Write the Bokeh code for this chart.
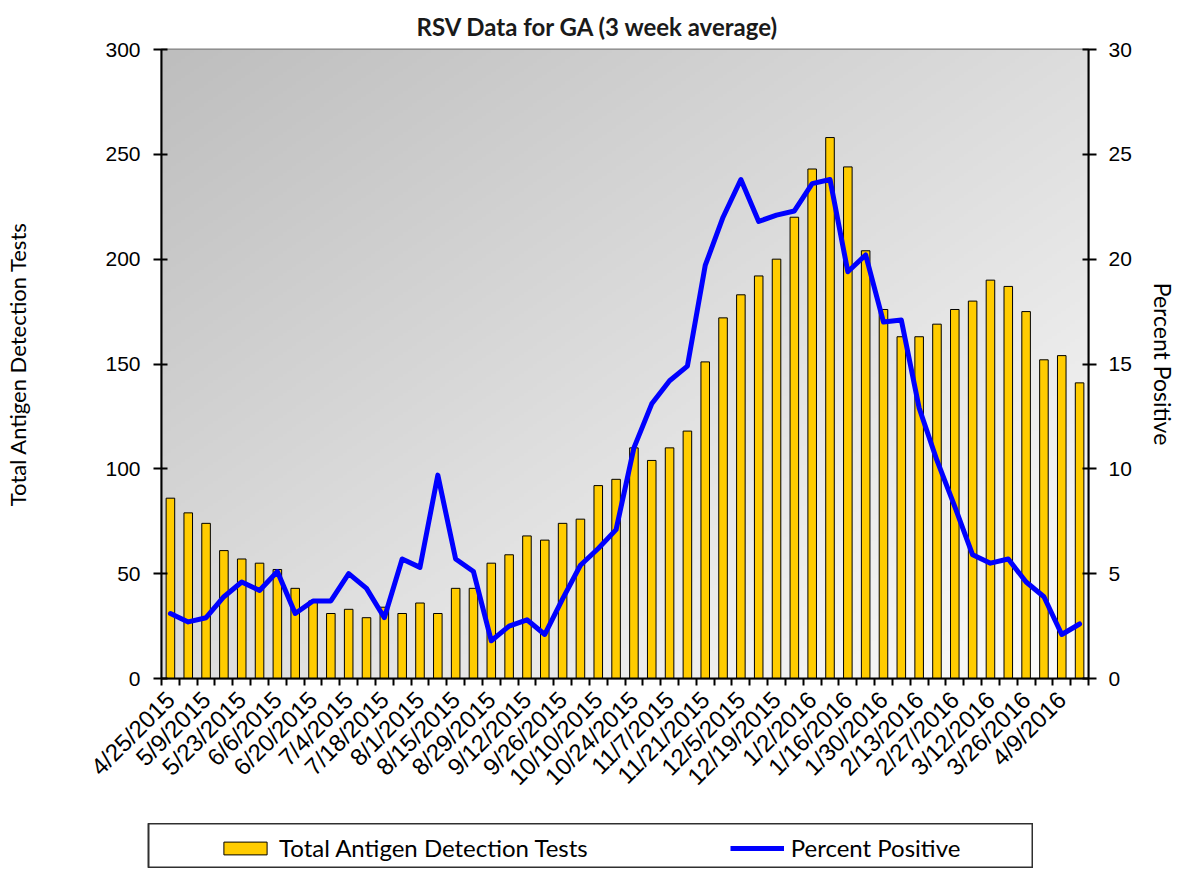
import numpy as np
from bokeh.plotting import figure
from bokeh.layouts import column
from bokeh.models import (Range1d, LinearAxis, FixedTicker, SingleIntervalTicker,
                          Legend, LegendItem)
from bokeh.embed import file_html
from bokeh.resources import INLINE
from math import pi

# ---------------- data ----------------
weeks = ["4/25/2015", "5/2/2015", "5/9/2015", "5/16/2015", "5/23/2015", "5/30/2015",
         "6/6/2015", "6/13/2015", "6/20/2015", "6/27/2015", "7/4/2015", "7/11/2015",
         "7/18/2015", "7/25/2015", "8/1/2015", "8/8/2015", "8/15/2015", "8/22/2015",
         "8/29/2015", "9/5/2015", "9/12/2015", "9/19/2015", "9/26/2015", "10/3/2015",
         "10/10/2015", "10/17/2015", "10/24/2015", "10/31/2015", "11/7/2015", "11/14/2015",
         "11/21/2015", "11/28/2015", "12/5/2015", "12/12/2015", "12/19/2015", "12/26/2015",
         "1/2/2016", "1/9/2016", "1/16/2016", "1/23/2016", "1/30/2016", "2/6/2016",
         "2/13/2016", "2/20/2016", "2/27/2016", "3/5/2016", "3/12/2016", "3/19/2016",
         "3/26/2016", "4/2/2016", "4/9/2016", "4/16/2016"]

total_tests = [86, 79, 74, 61, 57, 55, 52, 43, 37, 31, 33, 29, 34, 31, 36, 31, 43, 43,
               55, 59, 68, 66, 74, 76, 92, 95, 110, 104, 110, 118, 151, 172, 183, 192,
               200, 220, 243, 258, 244, 204, 176, 163, 163, 169, 176, 180, 190, 187,
               175, 152, 154, 141]

percent_positive = [3.1, 2.7, 2.9, 3.9, 4.6, 4.2, 5.1, 3.1, 3.7, 3.7, 5.0, 4.3, 2.9,
                    5.7, 5.3, 9.7, 5.7, 5.1, 1.8, 2.5, 2.8, 2.1, 3.8, 5.4, 6.2, 7.1,
                    11.0, 13.1, 14.2, 14.9, 19.7, 22.0, 23.8, 21.8, 22.1, 22.3, 23.6,
                    23.8, 19.4, 20.2, 17.0, 17.1, 12.9, 10.4, 8.2, 5.9, 5.5, 5.7, 4.6,
                    3.9, 2.1, 2.6]

title_text = "RSV Data for GA (3 week average)"
left_title = "Total Antigen Detection Tests"
right_title = "Percent Positive"
series_names = ["Total Antigen Detection Tests", "Percent Positive"]

idx = list(range(len(weeks)))
label_idx = idx[::2]

BAR_FILL = "#FFCC00"
LINE_COLOR = "#0000FF"

# ---------------- main figure ----------------
p = figure(frame_width=927, frame_height=629,
           min_border_left=161, min_border_right=88, min_border_top=48, min_border_bottom=145,
           x_range=Range1d(-0.5, len(weeks) - 0.5), y_range=Range1d(0, 300),
           output_backend="svg", toolbar_location=None, tools="")
p.frame_align = False
p.extra_y_ranges = {"pct": Range1d(0, 30)}
p.background_fill_color = "white"
p.border_fill_color = "white"
p.outline_line_color = "#808080"
p.outline_line_width = 2

# diagonal gradient background of the plot area
ny, nx = 200, 200
fy = np.linspace(0, 1, ny)[:, None]       # 0 bottom, 1 top
fx = np.linspace(0, 1, nx)[None, :]       # 0 left, 1 right
t = ((1 - fx) + fy) / 2.0                 # 1 = top-left (dark)
g = (252 - t * (252 - 190)).astype(np.uint8)
img = np.empty((ny, nx), dtype=np.uint32)
view = img.view(dtype=np.uint8).reshape((ny, nx, 4))
view[:, :, 0] = g
view[:, :, 1] = g
view[:, :, 2] = g
view[:, :, 3] = 255
p.image_rgba(image=[img], x=-0.5, y=0, dw=len(weeks), dh=300)

bars = p.vbar(x=idx, top=total_tests, width=0.48, fill_color=BAR_FILL,
              line_color="black", line_width=1)
line = p.line(x=idx, y=percent_positive, y_range_name="pct", line_color=LINE_COLOR,
              line_width=5, line_join="round", line_cap="round")

# ---------------- axes ----------------
p.xgrid.visible = False
p.ygrid.grid_line_color = "black"
p.ygrid.grid_line_width = 1
p.ygrid.ticker = SingleIntervalTicker(interval=50)

xa = p.xaxis[0]
xa.ticker = FixedTicker(ticks=label_idx, minor_ticks=list(np.arange(-0.5, len(weeks) + 0.5, 1.0)))
xa.major_label_overrides = {i: weeks[i] for i in label_idx}
xa.major_label_orientation = pi / 4
xa.major_tick_out = 0
xa.major_tick_in = 0
xa.minor_tick_out = 7
xa.minor_tick_in = 0
xa.minor_tick_line_color = "black"
xa.minor_tick_line_width = 2
xa.axis_line_color = "black"
xa.axis_line_width = 2
xa.major_label_standoff = 10
xa.major_label_text_font = "Liberation Sans"
xa.major_label_text_font_size = "24px"
xa.major_label_text_color = "black"

ya = p.yaxis[0]
ya.ticker = SingleIntervalTicker(interval=50)
ya.minor_tick_line_color = None
ya.major_tick_out = 8
ya.major_tick_in = 6
ya.major_tick_line_color = "black"
ya.major_tick_line_width = 2
ya.axis_line_color = "black"
ya.axis_line_width = 2
ya.major_label_standoff = 13
ya.major_label_text_font = "Liberation Sans"
ya.major_label_text_font_size = "21px"
ya.major_label_text_color = "black"
ya.axis_label = left_title
ya.axis_label_text_font = "Lato"
ya.axis_label_text_font_style = "normal"
ya.axis_label_text_font_size = "22px"
ya.axis_label_text_color = "black"
ya.axis_label_standoff = 71

ra = LinearAxis(y_range_name="pct", ticker=SingleIntervalTicker(interval=5))
ra.minor_tick_line_color = None
ra.major_tick_out = 8
ra.major_tick_in = 6
ra.major_tick_line_color = "black"
ra.major_tick_line_width = 2
ra.axis_line_color = "black"
ra.axis_line_width = 2
ra.major_label_standoff = 12
ra.major_label_text_font = "Liberation Sans"
ra.major_label_text_font_size = "21px"
ra.major_label_text_color = "black"
ra.axis_label = right_title
ra.axis_label_text_font = "Lato"
ra.axis_label_text_font_style = "normal"
ra.axis_label_text_font_size = "23px"
ra.axis_label_text_color = "black"
ra.axis_label_standoff = 14
p.add_layout(ra, "right")

# ---------------- title ----------------
p.title.text = title_text
p.title.align = "left"
p.title.offset = 255
p.title.text_font = "Lato"
p.title.text_font_style = "bold"
p.title.text_font_size = "24px"
p.title.text_color = "#1a1a1a"
p.title.standoff = 18

# ---------------- legend strip (separate small figure below) ----------------
# the same series are drawn here only as legend keys; the ranges keep them out of view
q = figure(frame_width=885, frame_height=45,
           min_border_left=148, min_border_right=0, min_border_top=0, min_border_bottom=0,
           x_range=Range1d(1000, 1001), y_range=Range1d(1000, 1001),
           x_axis_location=None, y_axis_location=None,
           output_backend="svg", toolbar_location=None, tools="")
q.frame_align = False
q.grid.visible = False
q.background_fill_color = "white"
q.border_fill_color = "white"
q.outline_line_color = "#303030"
q.outline_line_width = 2

key_bar = q.vbar(x=idx, top=total_tests, width=0.48, fill_color=BAR_FILL,
                 line_color="black", line_width=1)
key_line = q.line(x=idx, y=percent_positive, line_color=LINE_COLOR, line_width=5)

legend = Legend(items=[LegendItem(label=series_names[0], renderers=[key_bar]),
                       LegendItem(label=series_names[1], renderers=[key_line])],
                orientation="horizontal", location=(70, 6),
                padding=0, margin=0, spacing=142,
                glyph_width=54, glyph_height=16, label_standoff=7,
                label_text_font="Lato", label_text_font_size="24px", label_text_color="black",
                border_line_alpha=0, background_fill_alpha=0)
q.add_layout(legend, "center")

layout = column(p, q, spacing=0)
open("out.html", "w").write(file_html(layout, INLINE))
